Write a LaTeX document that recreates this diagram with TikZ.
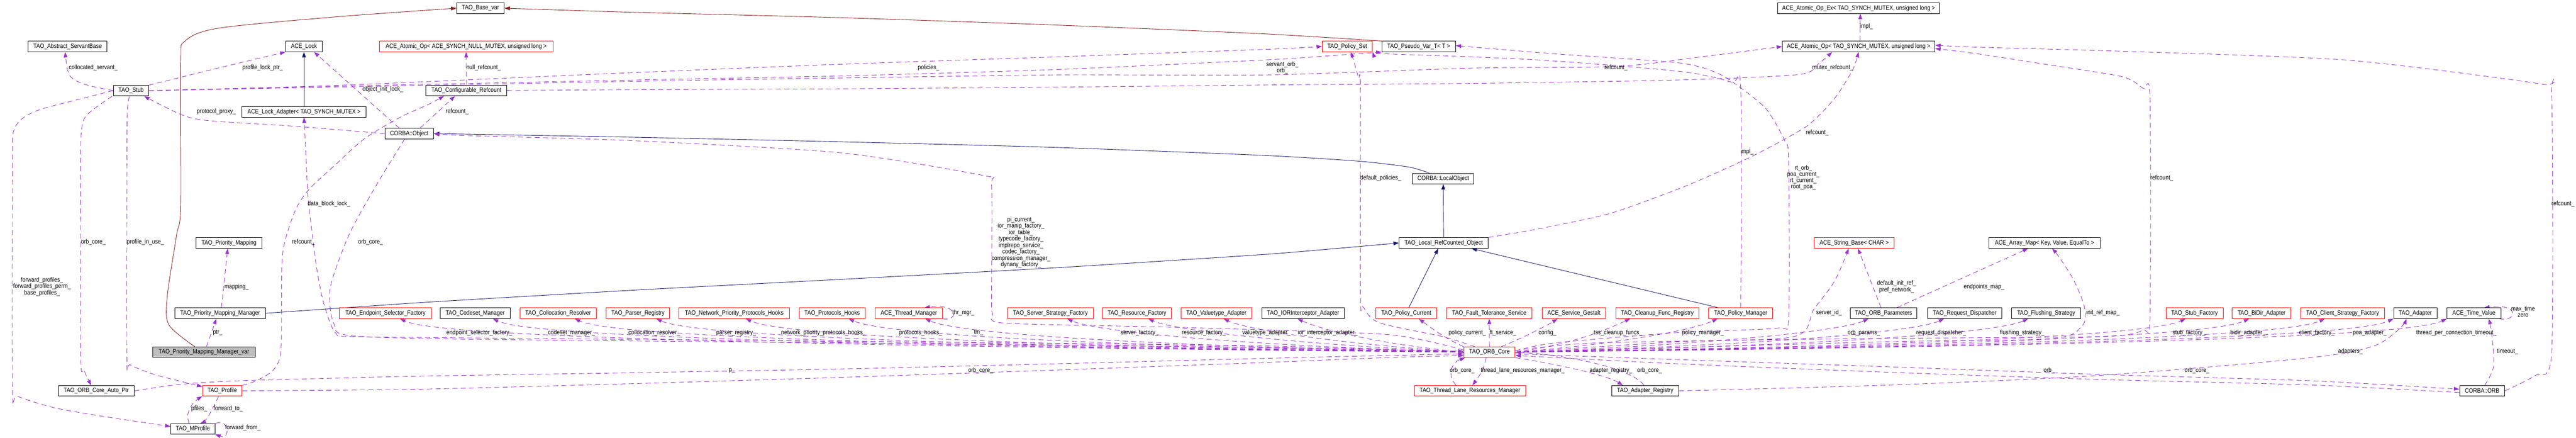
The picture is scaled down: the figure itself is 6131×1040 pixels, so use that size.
\documentclass[tikz,border=0pt]{standalone}
\usepackage{fontspec}
\setmainfont{Liberation Sans}
\usetikzlibrary{arrows.meta,backgrounds}
\definecolor{usec}{HTML}{9A32CD}
\definecolor{navyc}{HTML}{191970}
\definecolor{firec}{HTML}{8B1A1A}
\definecolor{grayfill}{HTML}{BFBFBF}
\newcommand\nx[1]{\scalebox{0.87}[1]{#1}}
\newcommand\ml[1]{\nx{\begin{tabular}{@{}c@{}}#1\end{tabular}}}
\begin{document}
\begin{tikzpicture}[x=1pt,y=-1pt,
  nbox/.style={draw=black,line width=1.2pt,fill=white,minimum height=25pt,inner sep=0pt,font=\fontsize{15pt}{14.8pt}\selectfont},
  rbox/.style={nbox,draw=red},
  gbox/.style={nbox,fill=grayfill},
  lbl/.style={inner sep=0pt,font=\fontsize{15pt}{14.8pt}\selectfont},
  mem/.style={draw=usec,line width=1.1pt,dash pattern=on 12pt off 8pt,-{Triangle[length=13pt,width=9pt,fill=usec]}},
  inh/.style={draw=navyc,line width=1.1pt,-{Triangle[length=13pt,width=9pt,fill=navyc]}},
  priv/.style={draw=firec,line width=1.1pt,-{Triangle[length=13pt,width=9pt,fill=firec]}}]
\useasboundingbox (0,0) rectangle (6131,1040);
% ---------------- nodes
\node[nbox,minimum width=113pt] (basevar) at (1143.5,19.5) {\nx{TAO\_Base\_var}};
\node[nbox,minimum width=385pt] (atomicex) at (4423.5,19.5) {\nx{ACE\_Atomic\_Op\_Ex< TAO\_SYNCH\_MUTEX, unsigned long >}};
\node[nbox,minimum width=188pt] (servant) at (161,110.5) {\nx{TAO\_Abstract\_ServantBase}};
\node[nbox,minimum width=87pt] (acelock) at (723.5,110.5) {\nx{ACE\_Lock}};
\node[rbox,minimum width=413pt] (atomicnull) at (1109.5,110.5) {\nx{ACE\_Atomic\_Op< ACE\_SYNCH\_NULL\_MUTEX, unsigned long >}};
\node[rbox,minimum width=119pt] (policyset) at (3206.5,110.5) {\nx{TAO\_Policy\_Set}};
\node[nbox,minimum width=175pt] (pseudovar) at (3376.5,110.5) {\nx{TAO\_Pseudo\_Var\_T< T >}};
\node[nbox,minimum width=363pt] (atomicmx) at (4423.5,110.5) {\nx{ACE\_Atomic\_Op< TAO\_SYNCH\_MUTEX, unsigned long >}};
\node[nbox,minimum width=84pt] (stub) at (312,215.5) {\nx{TAO\_Stub}};
\node[nbox,minimum width=192pt] (cfgref) at (1110,215) {\nx{TAO\_Configurable\_Refcount}};
\node[nbox,minimum width=295pt] (lockadapter) at (723.5,266) {\nx{ACE\_Lock\_Adapter< TAO\_SYNCH\_MUTEX >}};
\node[nbox,minimum width=116pt] (corbaobj) at (974,317.5) {\nx{CORBA::Object}};
\node[nbox,minimum width=146pt] (localobj) at (3435,424.5) {\nx{CORBA::LocalObject}};
\node[nbox,minimum width=156pt] (pmap) at (545,577.5) {\nx{TAO\_Priority\_Mapping}};
\node[nbox,minimum width=212pt] (localref) at (3436,577.5) {\nx{TAO\_Local\_RefCounted\_Object}};
\node[rbox,minimum width=190pt] (strbase) at (4413,577.5) {\nx{ACE\_String\_Base< CHAR >}};
\node[nbox,minimum width=264pt] (arraymap) at (4866,577.5) {\nx{ACE\_Array\_Map< Key, Value, EqualTo >}};
% row 744.5
\node[nbox,minimum width=216pt] (pmm) at (524,744.5) {\nx{TAO\_Priority\_Mapping\_Manager}};
\node[rbox,minimum width=219pt] (esf) at (917.5,744.5) {\nx{TAO\_Endpoint\_Selector\_Factory}};
\node[nbox,minimum width=166pt] (codeset) at (1131,744.5) {\nx{TAO\_Codeset\_Manager}};
\node[rbox,minimum width=181pt] (collres) at (1328.5,744.5) {\nx{TAO\_Collocation\_Resolver}};
\node[rbox,minimum width=151pt] (parser) at (1518.5,744.5) {\nx{TAO\_Parser\_Registry}};
\node[rbox,minimum width=263pt] (netprio) at (1747.5,744.5) {\nx{TAO\_Network\_Priority\_Protocols\_Hooks}};
\node[rbox,minimum width=157pt] (protohooks) at (1980.5,744.5) {\nx{TAO\_Protocols\_Hooks}};
\node[rbox,minimum width=160pt] (thrmgr) at (2163,744.5) {\nx{ACE\_Thread\_Manager}};
\node[rbox,minimum width=204pt] (ssf) at (2500,744.5) {\nx{TAO\_Server\_Strategy\_Factory}};
\node[rbox,minimum width=164pt] (resf) at (2706,744.5) {\nx{TAO\_Resource\_Factory}};
\node[rbox,minimum width=168pt] (vta) at (2895,744.5) {\nx{TAO\_Valuetype\_Adapter}};
\node[nbox,minimum width=197pt] (iorint) at (3101.5,744.5) {\nx{TAO\_IORInterceptor\_Adapter}};
\node[rbox,minimum width=144pt] (polcur) at (3347,744.5) {\nx{TAO\_Policy\_Current}};
\node[rbox,minimum width=203pt] (ftsvc) at (3544.5,744.5) {\nx{TAO\_Fault\_Tolerance\_Service}};
\node[rbox,minimum width=152pt] (gestalt) at (3746,744.5) {\nx{ACE\_Service\_Gestalt}};
\node[rbox,minimum width=197pt] (cleanup) at (3944.5,744.5) {\nx{TAO\_Cleanup\_Func\_Registry}};
\node[rbox,minimum width=152pt] (polmgr) at (4143,744.5) {\nx{TAO\_Policy\_Manager}};
\node[nbox,minimum width=158pt] (orbparams) at (4483,744.5) {\nx{TAO\_ORB\_Parameters}};
\node[nbox,minimum width=176pt] (reqdisp) at (4676,744.5) {\nx{TAO\_Request\_Dispatcher}};
\node[nbox,minimum width=164pt] (flush) at (4870,744.5) {\nx{TAO\_Flushing\_Strategy}};
\node[rbox,minimum width=136pt] (stubf) at (5223,744.5) {\nx{TAO\_Stub\_Factory}};
\node[rbox,minimum width=139pt] (bidir) at (5382.5,744.5) {\nx{TAO\_BiDir\_Adapter}};
\node[rbox,minimum width=199pt] (csf) at (5575.5,744.5) {\nx{TAO\_Client\_Strategy\_Factory}};
\node[nbox,minimum width=103pt] (adapter) at (5748.5,744.5) {\nx{TAO\_Adapter}};
\node[nbox,minimum width=128pt] (timeval) at (5888,744.5) {\nx{ACE\_Time\_Value}};
% row 837
\node[gbox,minimum width=243pt] (pmmvar) at (485.5,837) {\nx{TAO\_Priority\_Mapping\_Manager\_var}};
\node[rbox,minimum width=122pt] (orbcore) at (3545,837) {\nx{TAO\_ORB\_Core}};
% row 929
\node[nbox,minimum width=180pt] (autoptr) at (229,929) {\nx{TAO\_ORB\_Core\_Auto\_Ptr}};
\node[rbox,minimum width=94pt] (profile) at (529,929) {\nx{TAO\_Profile}};
\node[rbox,minimum width=265pt] (tlrm) at (3498.5,929) {\nx{TAO\_Thread\_Lane\_Resources\_Manager}};
\node[nbox,minimum width=159pt] (adreg) at (3915.5,929) {\nx{TAO\_Adapter\_Registry}};
\node[nbox,minimum width=107pt] (corbaorb) at (5907.5,929) {\nx{CORBA::ORB}};
\node[nbox,minimum width=105pt] (mprofile) at (459,1019.5) {\nx{TAO\_MProfile}};
% ---------------- edges
\begin{scope}[on background layer]
\fill[white] (0,0) rectangle (6131,1040);
% private inheritance
\draw[priv] plot[smooth,tension=0.5] coordinates {([xshift=-22pt]pmmvar.north) (402,772) (398,705) (420,560) (430,490) (430,150) (440,98) (520,67) (800,40) (basevar.west)};
\draw[priv] plot[smooth,tension=0.4] coordinates {(pseudovar.north west) (3000,80) (2500,59) (2000,42) (1500,29) (basevar.east)};
% public inheritance
\draw[inh] (lockadapter.north) -- (acelock.south);
\draw[inh] plot[smooth,tension=0.4] coordinates {([xshift=-33pt]localobj.north) (3353,397) (3233,383) (3000,369) (2500,350) (2000,337) (1500,326) (corbaobj.east)};
\draw[inh] (localref.north) -- (localobj.south);
\draw[inh] plot[smooth,tension=0.3] coordinates {(pmm.east) (1020,718) (1520,689) (2020,663) (2520,636) (3020,604) (localref.west)};
\draw[inh] ([xshift=6pt]polcur.north) -- ([xshift=-13pt]localref.south);
\draw[inh] ([xshift=-53pt]polmgr.north) -- ([xshift=66pt]localref.south);
% usage: top part
\draw[mem] plot[smooth,tension=0.5] coordinates {(stub.west) (200,200) (165,178) ([xshift=-6pt]servant.south)};
\draw[mem] plot[smooth,tension=0.5] coordinates {(stub.north east) (510,164) (acelock.south west)};
\draw[mem] plot[smooth,tension=0.4] coordinates {(stub.east) (800,203) (1520,172) (2020,152) (2520,135) (3020,117) (policyset.west)};
\draw[mem] plot[smooth,tension=0.4] coordinates {(stub.east) (800,205) (1520,190) (2020,180) (2520,165) (3020,142) (3200,130) (pseudovar.south west)};
\draw[mem] plot[smooth,tension=0.4] coordinates {(stub.east) (800,207) (1520,193) (2020,185) (2520,178) (3020,178) (3500,162) (3850,158) (4050,135) (atomicmx.west)};
\draw[mem] plot[smooth,tension=0.4] coordinates {(cfgref.east) (1520,213) (2020,211) (2520,207) (3020,202) (3520,198) (4000,190) (4283,177) (4330,150) ([xshift=-63pt]atomicmx.south)};
\draw[mem] (cfgref.north) -- (atomicnull.south);
\draw[mem] plot[smooth,tension=0.4] coordinates {(localref.north east) (3667,543) (3833,507) (4010,443) (4167,373) (4300,300) (4367,233) (4410,165) (atomicmx.south)};
\draw[mem] ([xshift=4pt]atomicmx.north) -- ([xshift=4pt]atomicex.south);
\draw[mem] plot[smooth,tension=0.4] coordinates {([yshift=4pt]orbcore.east) (3800,815) (4400,805) (5000,800) (5100,785) (5117,755) (5117,230) (5100,210) (5050,182) (4850,150) (4700,127) ([yshift=-5pt]atomicmx.east)};
\draw[mem] plot[smooth,tension=0.4] coordinates {(corbaorb.east) (6032,893) (6073,840) (6073,225) (6050,200) (5588,143) (5057,122) (4700,112) ([yshift=3pt]atomicmx.east)};
\draw[mem] ([xshift=-24pt]corbaobj.north) -- ([xshift=24pt]acelock.south);
\draw[mem] plot[smooth,tension=0.5] coordinates {(corbaobj.west) (700,300) (500,287) (433,273) ([xshift=31pt]stub.south)};
\draw[mem] ([xshift=26pt]corbaobj.north) -- ([xshift=-27pt]cfgref.south);
\draw[mem] plot[smooth,tension=0.5] coordinates {(profile.north east) (610,905) (650,880) (668,840) (670,733) (673,600) (700,507) (733,453) (800,390) (867,330) (950,280) (1020,248) ([xshift=-53pt]cfgref.south)};
\draw[mem] plot[smooth,tension=0.5] coordinates {([xshift=-11pt]corbaobj.south) (900,433) (833,553) (790,667) (785,720) (795,770) (830,797) (1100,806) (2000,815) (3000,826) ([yshift=2pt]orbcore.west)};
\draw[mem] plot[smooth,tension=0.5] coordinates {([yshift=-1pt]orbcore.west) (3000,822) (2000,811) (1100,803) (833,800) (800,793) (783,760) (767,707) (753,633) (742,547) (733,467) (727,347) (lockadapter.south)};
\draw[mem] plot[smooth,tension=0.4] coordinates {([yshift=5pt]orbcore.west) (3300,795) (2800,778) (2390,768) (2362,745) (2360,700) (2360,440) (2345,418) (2000,363) (1500,334) (1100,322) (corbaobj.east)};
% usage: left bottom part
\draw[mem] plot[smooth,tension=0.5] coordinates {(stub.west) (200,233) (83,265) (35,305) (30,400) (30,925) (42,942) (133,970) (267,993) ([yshift=6pt]mprofile.west)};
\draw[mem] plot[smooth,tension=0.5] coordinates {([xshift=-45pt]stub.south) (207,273) (194,310) (192,400) (192,845) (200,880) ([xshift=-12pt]autoptr.north)};
\draw[mem] plot[smooth,tension=0.5] coordinates {([xshift=-4pt]stub.south) (303,267) (302,400) (302,847) (310,867) (367,890) (433,907) ([yshift=10pt]profile.west)};
\draw[mem] plot[smooth,tension=0.6] coordinates {([xshift=-9pt]mprofile.north) (447,985) (460,958) (profile.south west)};
\draw[mem] plot[smooth,tension=0.6] coordinates {([xshift=-9pt]profile.south) (510,963) (492,995) ([xshift=18pt]mprofile.north)};
\draw[mem] (mprofile.north east) .. controls (548,995) and (548,1045) .. (mprofile.south east);
\draw[mem] ([xshift=6pt]pmmvar.north) -- ([xshift=-9pt]pmm.south);
\draw[mem] ([xshift=3pt]pmm.north) -- ([xshift=-3pt]pmap.south);
\draw[mem] plot[smooth,tension=0.4] coordinates {(autoptr.east) (400,917) (470,910) (600,904) (1000,894) (1500,886) (2000,877) (2500,865) (3000,852) (3300,845) ([yshift=-4pt]orbcore.west)};
\draw[mem] plot[smooth,tension=0.4] coordinates {(profile.east) (1000,925) (1500,912) (2000,897) (2500,880) (3000,862) (3300,850) ([yshift=-8pt]orbcore.west)};
% usage: ORB core members, left row
\draw[mem] (orbcore.west) .. controls (1302,818) and (1012,785) .. ([xshift=34.5pt]esf.south);
\draw[mem] (orbcore.west) .. controls (1523,818) and (1233,785) .. ([xshift=42pt]codeset.south);
\draw[mem] (orbcore.west) .. controls (1718,818) and (1428,785) .. ([xshift=39.5pt]collres.south);
\draw[mem] (orbcore.west) .. controls (1912,818) and (1622,785) .. ([xshift=43.5pt]parser.south);
\draw[mem] (orbcore.west) .. controls (2125,818) and (1835,785) .. ([xshift=27.5pt]netprio.south);
\draw[mem] (orbcore.west) .. controls (2370,818) and (2080,785) .. ([xshift=39.5pt]protohooks.south);
\draw[mem] (orbcore.west) .. controls (2552,818) and (2262,785) .. ([xshift=39pt]thrmgr.south);
\draw[mem] (orbcore.west) .. controls (2890,818) and (2600,785) .. ([xshift=40pt]ssf.south);
\draw[mem] (orbcore.west) .. controls (3083,818) and (2793,785) .. ([xshift=27pt]resf.south);
\draw[mem] (orbcore.west) .. controls (3198,818) and (2972,785) .. ([xshift=17pt]vta.south);
\draw[mem] (orbcore.west) .. controls (3286,818) and (3148,785) .. ([xshift=-13.5pt]iorint.south);
\draw[mem] (orbcore.north west) .. controls (3440,805) and (3400,775) .. ([xshift=30pt]polcur.south);
\draw[mem] (orbcore.north) -- (ftsvc.south);
\draw[mem] ([xshift=28pt]orbcore.north) .. controls (3620,805) and (3680,775) .. ([xshift=-39pt]gestalt.south);
\draw[mem] plot[smooth,tension=0.5] coordinates {([xshift=-35pt]orbcore.north) (3433,800) (3283,767) (3245,730) (3238,700) (3238,215) (3233,185) (3222,145) ([xshift=8pt]policyset.south)};
\draw[mem] (thrmgr.south east) .. controls (2282,765) and (2282,720) .. ([xshift=37pt]thrmgr.north);
% usage: ORB core members, right row
\draw[mem] (orbcore.east) .. controls (3743,818) and (3820,785) .. ([xshift=-64.5pt]cleanup.south);
\draw[mem] (orbcore.east) .. controls (3847,818) and (4028,785) .. ([xshift=-55pt]polmgr.south);
\draw[mem] (orbcore.east) .. controls (4097,818) and (4387,785) .. ([xshift=-36pt]orbparams.south);
\draw[mem] (orbcore.east) .. controls (4277,818) and (4567,785) .. ([xshift=-49pt]reqdisp.south);
\draw[mem] (orbcore.east) .. controls (4477,818) and (4767,785) .. ([xshift=-43pt]flush.south);
\draw[mem] (orbcore.east) .. controls (4852,818) and (5142,785) .. ([xshift=-21pt]stubf.south);
\draw[mem] (orbcore.east) .. controls (5003,818) and (5293,785) .. ([xshift=-29.5pt]bidir.south);
\draw[mem] (orbcore.east) .. controls (5183,818) and (5473,785) .. ([xshift=-42.5pt]csf.south);
\draw[mem] (orbcore.east) .. controls (5347,818) and (5637,785) .. (adapter.south west);
\draw[mem] (orbcore.east) .. controls (5474,818) and (5764,785) .. (timeval.south west);
\draw[mem] plot[smooth,tension=0.5] coordinates {(orbcore.east) (4000,812) (4270,800) (4317,735) (4367,667) ([xshift=-13pt]strbase.south)};
\draw[mem] ([xshift=-6pt]orbparams.north) -- ([xshift=9pt]strbase.south);
\draw[mem] ([xshift=31pt]orbparams.north) -- ([xshift=-39pt]arraymap.south);
\draw[mem] plot[smooth,tension=0.5] coordinates {(orbcore.east) (4500,812) (4880,805) (4955,775) (4961,730) (4935,665) (4900,610) ([xshift=18pt]arraymap.south)};
\draw[mem] plot[smooth,tension=0.5] coordinates {(polmgr.north) (4143,215) (4120,195) (4000,170) (3700,145) (3500,135) (3300,128) (policyset.south east)};
\draw[mem] plot[smooth,tension=0.4] coordinates {([yshift=3pt]orbcore.east) (3700,815) (4000,790) (4230,780) (4257,755) (4257,380) (4247,333) (4200,255) (4100,180) (4000,150) (3700,128) ([yshift=2pt]pseudovar.east)};
\draw[mem] plot[smooth,tension=0.5] coordinates {(adreg.east) (4500,915) (5000,892) (5500,850) (5650,822) (5712,780) ([xshift=-21pt]adapter.south)};
\draw[mem] plot[smooth,tension=0.5] coordinates {([xshift=6pt]corbaorb.north) (5935,870) (5930,790) ([xshift=35pt]timeval.south)};
\draw[mem] ([xshift=-5pt]timeval.south east) .. controls (5995,765) and (5995,720) .. ([xshift=24pt]timeval.north);
% usage: bottom band
\draw[mem] ([xshift=-8pt]orbcore.south) .. controls (3530,880) .. ([xshift=6pt]tlrm.north);
\draw[mem] ([xshift=-33pt]tlrm.north) .. controls (3440,885) and (3460,860) .. ([xshift=-58pt]orbcore.south);
\draw[mem] (orbcore.south east) .. controls (3733,870) and (3830,895) .. ([xshift=-53pt]adreg.north);
\draw[mem] ([xshift=-3pt]adreg.north) .. controls (3890,880) and (3750,845) .. (orbcore.east);
\draw[mem] plot[smooth,tension=0.4] coordinates {([yshift=-4pt]orbcore.east) (4000,855) (4500,872) (5000,890) (5500,905) ([yshift=4pt]corbaorb.west)};
\draw[mem] plot[smooth,tension=0.4] coordinates {([yshift=-4pt]corbaorb.west) (5500,915) (5000,902) (4500,885) (4000,865) ([yshift=-8pt]orbcore.east)};
\end{scope}
% ---------------- labels
\node[lbl] (l1) at (222,161) {\nx{collocated\_servant\_}};
\node[lbl] (l2) at (625,161) {\nx{profile\_lock\_ptr\_}};
\node[lbl] (l3) at (2210,161) {\nx{policies\_}};
\node[lbl] (l4) at (3052,162) {\ml{servant\_orb\_\\orb\_}};
\node[lbl] (l5) at (3846,161) {\nx{refcount\_}};
\node[lbl] (l6) at (4362,161) {\nx{mutex\_refcount\_}};
\node[lbl] (l7) at (1151,161) {\nx{null\_refcount\_}};
\node[lbl] (l8) at (4325,316) {\nx{refcount\_}};
\node[lbl] (l9) at (4442,63) {\nx{impl\_}};
\node[lbl] (l10) at (5145,423) {\nx{refcount\_}};
\node[lbl] (l11) at (6100,485) {\nx{refcount\_}};
\node[lbl] (l12) at (911,213) {\nx{object\_init\_lock\_}};
\node[lbl] (l13) at (515,265) {\nx{protocol\_proxy\_}};
\node[lbl] (l14) at (1088,265) {\nx{refcount\_}};
\node[lbl] (l15) at (722,575) {\nx{refcount\_}};
\node[lbl] (l16) at (882,575) {\nx{orb\_core\_}};
\node[lbl] (l17) at (783,485) {\nx{data\_block\_lock\_}};
\node[lbl] (l18) at (2430,577) {\ml{pi\_current\_\\ior\_manip\_factory\_\\ior\_table\_\\typecode\_factory\_\\implrepo\_service\_\\codec\_factory\_\\compression\_manager\_\\dynany\_factory\_}};
\node[lbl] (l19) at (100,682) {\ml{forward\_profiles\_\\forward\_profiles\_perm\_\\base\_profiles\_}};
\node[lbl] (l20) at (222,575) {\nx{orb\_core\_}};
\node[lbl] (l21) at (346,575) {\nx{profile\_in\_use\_}};
\node[lbl] (l22) at (474,972) {\nx{pfiles\_}};
\node[lbl] (l23) at (543,972) {\nx{forward\_to\_}};
\node[lbl] (l24) at (578,1017) {\nx{forward\_from\_}};
\node[lbl] (l25) at (518,791) {\nx{ptr\_}};
\node[lbl] (l26) at (563,682) {\nx{mapping\_}};
\node[lbl] (l27) at (1742,881) {\nx{p\_}};
\node[lbl] (l28) at (2334,881) {\nx{orb\_core\_}};
\node[lbl] (l29) at (1141,791) {\nx{endpoint\_selector\_factory\_}};
\node[lbl] (l30) at (1360,791) {\nx{codeset\_manager\_}};
\node[lbl] (l31) at (1557,791) {\nx{collocation\_resolver\_}};
\node[lbl] (l32) at (1752,791) {\nx{parser\_registry\_}};
\node[lbl] (l33) at (1960,791) {\nx{network\_priority\_protocols\_hooks\_}};
\node[lbl] (l34) at (2191,791) {\nx{protocols\_hooks\_}};
\node[lbl] (l35) at (2329,791) {\nx{tm\_}};
\node[lbl] (l36) at (2293,743) {\nx{thr\_mgr\_}};
\node[lbl] (l37) at (2712,791) {\nx{server\_factory\_}};
\node[lbl] (l38) at (2865,791) {\nx{resource\_factory\_}};
\node[lbl] (l39) at (3014,791) {\nx{valuetype\_adapter\_}};
\node[lbl] (l40) at (3160,791) {\nx{ior\_interceptor\_adapter\_}};
\node[lbl] (l41) at (3492,791) {\nx{policy\_current\_}};
\node[lbl] (l42) at (3577,791) {\nx{ft\_service\_}};
\node[lbl] (l43) at (3683,791) {\nx{config\_}};
\node[lbl] (l44) at (3851,791) {\nx{tss\_cleanup\_funcs\_}};
\node[lbl] (l45) at (4053,791) {\nx{policy\_manager\_}};
\node[lbl] (l46) at (4158,361) {\nx{impl\_}};
\node[lbl] (l47) at (4292,423) {\ml{rt\_orb\_\\poa\_current\_\\rt\_current\_\\root\_poa\_}};
\node[lbl] (l48) at (3286,423) {\nx{default\_policies\_}};
\node[lbl] (l49) at (4353,743) {\nx{server\_id\_}};
\node[lbl] (l50) at (4514,682) {\ml{default\_init\_ref\_\\pref\_network\_}};
\node[lbl] (l51) at (4436,791) {\nx{orb\_params\_}};
\node[lbl] (l52) at (4722,682) {\nx{endpoints\_map\_}};
\node[lbl] (l53) at (5005,743) {\nx{init\_ref\_map\_}};
\node[lbl] (l54) at (4620,791) {\nx{request\_dispatcher\_}};
\node[lbl] (l55) at (4813,791) {\nx{flushing\_strategy\_}};
\node[lbl] (l56) at (5210,791) {\nx{stub\_factory\_}};
\node[lbl] (l57) at (5350,791) {\nx{bidir\_adapter\_}};
\node[lbl] (l58) at (5514,791) {\nx{client\_factory\_}};
\node[lbl] (l59) at (5640,791) {\nx{poa\_adapter\_}};
\node[lbl] (l60) at (5846,791) {\nx{thread\_per\_connection\_timeout\_}};
\node[lbl] (l61) at (5594,835) {\nx{adapters\_}};
\node[lbl] (l62) at (5968,835) {\nx{timeout\_}};
\node[lbl] (l63) at (6005,743) {\ml{max\_time\\zero}};
\node[lbl] (l64) at (3624,881) {\nx{thread\_lane\_resources\_manager\_}};
\node[lbl] (l65) at (3480,881) {\nx{orb\_core\_}};
\node[lbl] (l66) at (3834,881) {\nx{adapter\_registry\_}};
\node[lbl] (l67) at (3926,881) {\nx{orb\_core\_}};
\node[lbl] (l68) at (4877,881) {\nx{orb\_}};
\node[lbl] (l69) at (5229,881) {\nx{orb\_core\_}};
\end{tikzpicture}
\end{document}
